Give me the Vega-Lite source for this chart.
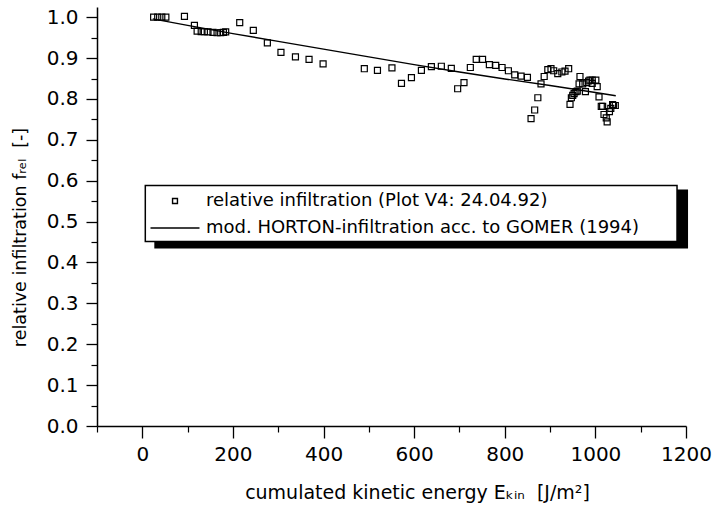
{
  "$schema": "https://vega.github.io/schema/vega-lite/v6.json",
  "width": 589,
  "height": 419,
  "autosize": {"type": "none"},
  "padding": {"left": 97, "top": 7, "right": 28, "bottom": 79},
  "background": "white",
  "config": {"view": {"stroke": null}, "font": "DejaVu Sans"},
  "datasets": {
    "obs": [
      {"E": 25, "f": 1.0}, {"E": 34, "f": 1.0}, {"E": 43, "f": 1.0}, {"E": 52, "f": 1.0},
      {"E": 93, "f": 1.002}, {"E": 115, "f": 0.98}, {"E": 121, "f": 0.966}, {"E": 130, "f": 0.965},
      {"E": 137, "f": 0.965}, {"E": 145, "f": 0.964}, {"E": 156, "f": 0.963}, {"E": 165, "f": 0.962},
      {"E": 173, "f": 0.962}, {"E": 179, "f": 0.963}, {"E": 184, "f": 0.964}, {"E": 215, "f": 0.987},
      {"E": 245, "f": 0.968}, {"E": 276, "f": 0.937}, {"E": 306, "f": 0.914}, {"E": 338, "f": 0.903},
      {"E": 368, "f": 0.897}, {"E": 399, "f": 0.886}, {"E": 490, "f": 0.874}, {"E": 519, "f": 0.87},
      {"E": 551, "f": 0.876}, {"E": 572, "f": 0.838}, {"E": 594, "f": 0.852}, {"E": 616, "f": 0.87},
      {"E": 638, "f": 0.879}, {"E": 660, "f": 0.88}, {"E": 682, "f": 0.875}, {"E": 696, "f": 0.825},
      {"E": 710, "f": 0.84}, {"E": 724, "f": 0.877}, {"E": 737, "f": 0.897}, {"E": 751, "f": 0.897},
      {"E": 766, "f": 0.884}, {"E": 780, "f": 0.882}, {"E": 794, "f": 0.877}, {"E": 808, "f": 0.869},
      {"E": 822, "f": 0.859}, {"E": 836, "f": 0.856}, {"E": 850, "f": 0.853}, {"E": 858, "f": 0.752},
      {"E": 866, "f": 0.773}, {"E": 873, "f": 0.803}, {"E": 880, "f": 0.837}, {"E": 887, "f": 0.855},
      {"E": 895, "f": 0.872}, {"E": 902, "f": 0.874}, {"E": 908, "f": 0.869}, {"E": 917, "f": 0.862},
      {"E": 926, "f": 0.866}, {"E": 933, "f": 0.868}, {"E": 941, "f": 0.874}, {"E": 944, "f": 0.787},
      {"E": 947, "f": 0.803}, {"E": 950, "f": 0.809}, {"E": 953, "f": 0.813}, {"E": 957, "f": 0.818},
      {"E": 960, "f": 0.819}, {"E": 964, "f": 0.837}, {"E": 966, "f": 0.855}, {"E": 972, "f": 0.837},
      {"E": 978, "f": 0.818}, {"E": 981, "f": 0.84}, {"E": 985, "f": 0.844}, {"E": 988, "f": 0.846},
      {"E": 993, "f": 0.846}, {"E": 1001, "f": 0.846}, {"E": 993, "f": 0.838}, {"E": 1004, "f": 0.83},
      {"E": 1008, "f": 0.805}, {"E": 1013, "f": 0.782}, {"E": 1016, "f": 0.782}, {"E": 1019, "f": 0.762},
      {"E": 1024, "f": 0.754}, {"E": 1026, "f": 0.744}, {"E": 1031, "f": 0.769}, {"E": 1034, "f": 0.777},
      {"E": 1038, "f": 0.786}, {"E": 1040, "f": 0.784}, {"E": 1044, "f": 0.784}
    ],
    "fit": [
      {"E": 23, "f": 0.996}, {"E": 100, "f": 0.98}, {"E": 200, "f": 0.96}, {"E": 300, "f": 0.941},
      {"E": 400, "f": 0.922}, {"E": 500, "f": 0.903}, {"E": 600, "f": 0.884}, {"E": 700, "f": 0.866},
      {"E": 800, "f": 0.849}, {"E": 900, "f": 0.833}, {"E": 1000, "f": 0.816}, {"E": 1045, "f": 0.808}
    ]
  },
  "resolve": {"axis": {"x": "independent", "y": "independent"}},
  "layer": [
    {
      "data": {"values": [{}]},
      "mark": {"type": "rect", "color": "black"},
      "encoding": {
        "x": {"datum": 26.5, "type": "quantitative", "scale": {"domain": [-100, 1200]}, "axis": null},
        "x2": {"datum": 1204.5},
        "y": {"datum": 0.5787, "type": "quantitative", "scale": {"domain": [0, 1.025]}, "axis": null},
        "y2": {"datum": 0.4345}
      }
    },
    {
      "data": {"values": [{}]},
      "mark": {"type": "rect", "fill": "white", "stroke": "black", "strokeWidth": 1.5},
      "encoding": {
        "x": {"datum": 6.6, "type": "quantitative", "axis": null},
        "x2": {"datum": 1180.2},
        "y": {"datum": 0.5885, "type": "quantitative", "axis": null},
        "y2": {"datum": 0.4516}
      }
    },
    {
      "data": {"name": "obs"},
      "mark": {"type": "point", "filled": false, "color": "black", "strokeWidth": 1.2, "size": 150, "opacity": 1},
      "encoding": {
        "x": {
          "field": "E", "type": "quantitative",
          "scale": {"domain": [-100, 1200], "nice": false, "zero": false},
          "axis": {
            "orient": "bottom", "values": [0, 200, 400, 600, 800, 1000, 1200], "format": "d", "grid": false,
            "tickSize": 12, "tickWidth": 1.3, "tickColor": "black", "domainColor": "black", "domainWidth": 1.5,
            "labelFontSize": 20, "labelColor": "black", "labelPadding": 6, "labelFlush": false, "labelOverlap": false,
            "title": "cumulated kinetic energy Eₖᵢₙ\u00a0\u00a0[J/m²]", "titleFontSize": 19, "titleFontWeight": "normal",
            "titleColor": "black", "titleX": 320, "titleY": 57, "titleAnchor": "middle"
          }
        },
        "y": {
          "field": "f", "type": "quantitative",
          "scale": {"domain": [0, 1.025], "nice": false, "zero": false},
          "axis": {
            "orient": "left", "values": [0, 0.1, 0.2, 0.3, 0.4, 0.5, 0.6, 0.7, 0.8, 0.9, 1.0], "format": ".1f", "grid": false,
            "tickSize": 11, "tickWidth": 1.3, "tickColor": "black", "domainColor": "black", "domainWidth": 1.5,
            "labelFontSize": 20, "labelColor": "black", "labelPadding": 8,
            "title": "relative infiltration fᵣₑₗ\u00a0\u00a0[-]", "titleFontSize": 17.5, "titleFontWeight": "normal",
            "titleColor": "black", "titleY": 230, "titlePadding": 17, "titleAnchor": "middle"
          }
        },
        "shape": {
          "datum": "relative infiltration (Plot V4: 24.04.92)", "type": "nominal",
          "scale": {
            "domain": ["relative infiltration (Plot V4: 24.04.92)", "mod. HORTON-infiltration acc. to GOMER (1994)"],
            "range": ["M-0.49,-0.49H0.49V0.49H-0.49Z", "M-4.9,0H4.9"]
          },
          "legend": {
            "orient": "none", "legendX": 48, "legendY": 179, "title": null,
            "padding": 6,
            "symbolSize": 100, "symbolStrokeWidth": 1.4, "symbolStrokeColor": "black", "symbolFillColor": "transparent",
            "symbolOpacity": 1, "symbolOffset": 15,
            "labelFontSize": 18, "labelColor": "black", "labelOffset": 22, "rowPadding": 9, "labelLimit": 0
          }
        }
      }
    },
    {
      "data": {"name": "fit"},
      "mark": {"type": "line", "color": "black", "strokeWidth": 1.4},
      "encoding": {
        "x": {
          "field": "E", "type": "quantitative",
          "axis": {
            "orient": "bottom", "values": [-100, 100, 300, 500, 700, 900, 1100], "grid": false,
            "tickSize": 6, "tickWidth": 1.2, "tickColor": "black", "domain": false, "labels": false, "title": null
          }
        },
        "y": {
          "field": "f", "type": "quantitative",
          "axis": {
            "orient": "left", "values": [0.05, 0.15, 0.25, 0.35, 0.45, 0.55, 0.65, 0.75, 0.85, 0.95], "grid": false,
            "tickSize": 6, "tickWidth": 1.2, "tickColor": "black", "domain": false, "labels": false, "title": null
          }
        }
      }
    }
  ]
}
